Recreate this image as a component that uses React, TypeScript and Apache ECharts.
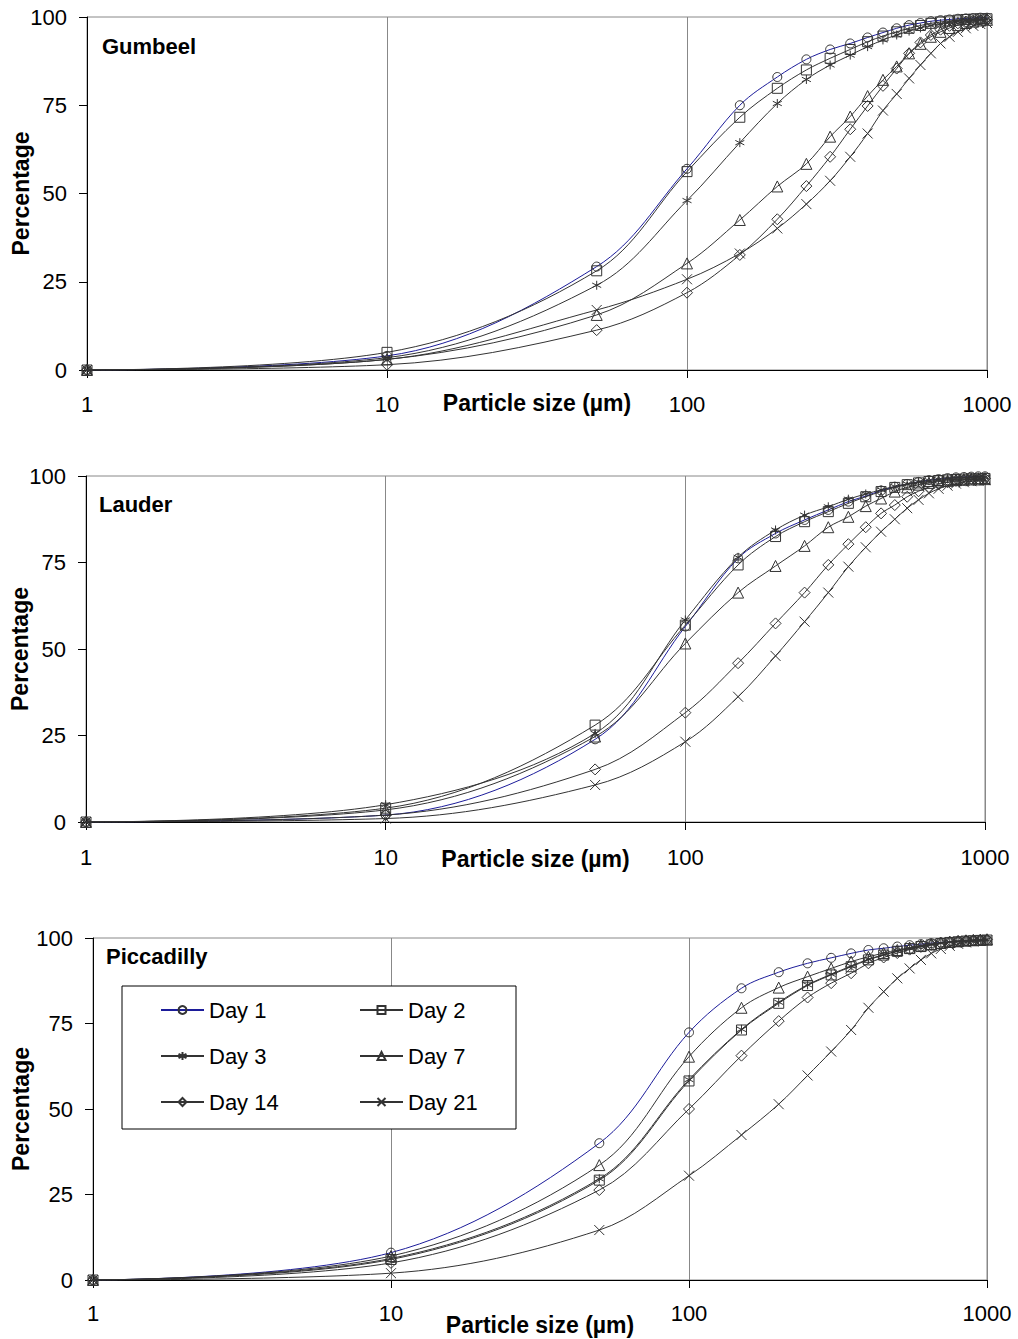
import React, { useEffect, useRef } from "react";
import * as echarts from "echarts";

const FONT = "'Liberation Sans', Arial, sans-serif";

// Particle size (µm) sample points
const sizes = [1, 10, 50, 100, 150, 200, 250, 300, 350, 400, 450, 500, 550, 600, 650, 700, 750, 800, 850, 900, 950, 1000];

const days = ["Day 1", "Day 2", "Day 3", "Day 7", "Day 14", "Day 21"];
const panelNames = ["Gumbeel", "Lauder", "Piccadilly"];
const xTickLabels = ["1", "10", "100", "1000"];

// Gumbeel
const gumDay1 = [0, 4, 29.3, 57, 75, 83, 88, 90.8, 92.5, 94.2, 95.6, 96.8, 97.7, 98.3, 98.8, 99.1, 99.3, 99.5, 99.6, 99.7, 99.8, 99.8];
const gumDay2 = [0, 5, 28.1, 56.2, 71.6, 79.8, 85, 88.3, 90.8, 93, 94.6, 95.8, 96.8, 97.6, 98.2, 98.6, 98.9, 99.1, 99.3, 99.4, 99.5, 99.5];
const gumDay3 = [0, 3.5, 24, 48, 64.4, 75.5, 82.3, 86.4, 89.2, 91.6, 93.5, 94.9, 96, 96.9, 97.6, 98.1, 98.5, 98.8, 99, 99.2, 99.3, 99.4];
const gumDay7 = [0, 3, 15.6, 30.2, 42.5, 52, 58.4, 66.1, 71.8, 77.6, 82.2, 86, 89.7, 92.4, 94.4, 95.8, 96.9, 97.7, 98.3, 98.7, 99, 99.2];
const gumDay14 = [0, 1.5, 11.3, 21.9, 32.6, 42.7, 52.1, 60.4, 68.2, 74.8, 80.5, 85.4, 89.7, 92.8, 94.9, 96.4, 97.5, 98.2, 98.7, 99, 99.2, 99.3];
const gumDay21 = [0, 3, 17, 25.7, 33, 40.1, 47, 53.6, 60.4, 67, 73.5, 78.2, 82.6, 86.4, 89.7, 92.5, 94.4, 95.8, 96.8, 97.5, 98, 98.3];

// Lauder
const lauDay1 = [0, 2, 23.9, 56.5, 76.2, 83.4, 87.3, 90.2, 92.6, 94.2, 95.8, 96.9, 97.7, 98.3, 98.8, 99.1, 99.4, 99.6, 99.7, 99.8, 99.9, 99.9];
const lauDay2 = [0, 4, 28, 56.9, 74.3, 82.5, 86.8, 89.7, 92.1, 94, 95.5, 96.7, 97.5, 98, 98.4, 98.7, 98.9, 99, 99.1, 99.2, 99.2, 99.3];
const lauDay3 = [0, 5, 25.6, 58.4, 76.5, 84.4, 88.7, 91.1, 93.3, 94.8, 96, 97, 97.7, 98.3, 98.7, 99, 99.2, 99.4, 99.5, 99.6, 99.7, 99.7];
const lauDay7 = [0, 3.5, 24.7, 51.6, 66.3, 74, 79.8, 85.2, 88.2, 91.3, 93.5, 95.5, 96.7, 97.5, 98, 98.4, 98.6, 98.8, 98.9, 99, 99, 99.1];
const lauDay14 = [0, 2, 15.2, 31.6, 45.9, 57.4, 66.3, 74.3, 80.3, 85.2, 89.2, 91.6, 94, 95.6, 96.8, 97.6, 98.2, 98.6, 98.9, 99.1, 99.2, 99.3];
const lauDay21 = [0, 1, 10.7, 23.2, 36.2, 48, 57.9, 66.3, 73.8, 79.4, 83.9, 87.5, 90.7, 93.1, 95, 96.3, 97.2, 97.8, 98.2, 98.5, 98.7, 98.8];

// Piccadilly
const picDay1 = [0, 8, 40, 72.4, 85.3, 90, 92.6, 94.2, 95.5, 96.5, 97, 97.5, 97.9, 98.2, 98.5, 98.7, 98.9, 99, 99.1, 99.2, 99.3, 99.3];
const picDay2 = [0, 6, 29.2, 58.2, 73.1, 80.9, 86.1, 89.2, 91.6, 93.6, 95, 96.1, 96.9, 97.5, 98, 98.4, 98.7, 98.9, 99.1, 99.2, 99.3, 99.4];
const picDay3 = [0, 6.3, 29.6, 58.6, 73.3, 81.2, 86.3, 89.4, 91.8, 93.8, 95.1, 96.2, 97, 97.6, 98.1, 98.5, 98.8, 99, 99.2, 99.3, 99.4, 99.5];
const picDay7 = [0, 7, 33.6, 65.3, 79.6, 85.5, 88.7, 91.1, 93.1, 94.5, 95.6, 96.5, 97.2, 97.8, 98.2, 98.6, 98.9, 99.1, 99.3, 99.4, 99.5, 99.6];
const picDay14 = [0, 5, 26.3, 50, 65.6, 75.7, 82.6, 86.8, 89.7, 92.6, 94.3, 95.6, 96.6, 97.4, 98, 98.5, 98.8, 99.1, 99.3, 99.4, 99.5, 99.6];
const picDay21 = [0, 2, 14.6, 30.5, 42.4, 51.4, 59.8, 66.8, 73.1, 79.6, 84.3, 88.2, 91.1, 93.6, 95.5, 96.8, 97.7, 98.3, 98.7, 99, 99.2, 99.3];

const panelData = [
  [gumDay1, gumDay2, gumDay3, gumDay7, gumDay14, gumDay21],
  [lauDay1, lauDay2, lauDay3, lauDay7, lauDay14, lauDay21],
  [picDay1, picDay2, picDay3, picDay7, picDay14, picDay21],
];

const symbols = [
  "circle",
  "rect",
  "path://M5,0L5,10M0.7,2.5L9.3,7.5M0.7,7.5L9.3,2.5",
  "triangle",
  "diamond",
  "path://M0,0L10,10M10,0L0,10",
];
const symbolSizes = [9, 10, 9, 11, 11, 10];
const lineColors = ["#1c1c9a", "#333", "#333", "#333", "#333", "#333"];

const grids = [
  { left: 87, top: 17, width: 900, height: 353 },
  { left: 86, top: 476, width: 899, height: 346 },
  { left: 93, top: 938, width: 894, height: 342 },
];
const titlePos = [
  [102, 46],
  [99, 504],
  [106, 956],
];
const xLabelMargins = [23, 24, 22];
const xNameGaps = [21, 25, 33];
const yNameGaps = [55, 55, 61];

export default function App() {
  const ref = useRef<HTMLDivElement>(null);
  useEffect(() => {
    if (!ref.current) return;
    const chart = echarts.init(ref.current, undefined, { renderer: "svg" });

    const xAxis = grids.map((_, i) => ({
      type: "log",
      logBase: 10,
      min: 1,
      max: 1000,
      gridIndex: i,
      axisLine: { show: true, onZero: false, lineStyle: { color: "#000", width: 1 } },
      axisTick: { show: true, length: 8, lineStyle: { color: "#000" } },
      axisLabel: {
        fontSize: 22,
        color: "#000",
        fontFamily: FONT,
        margin: xLabelMargins[i],
        formatter: (v: number) => {
          const idx = Math.round(Math.log10(v));
          return xTickLabels[idx] ?? String(Math.round(v));
        },
      },
      splitLine: { show: true, lineStyle: { color: "#888", width: 1 } },
      minorTick: { show: false },
      name: "Particle size (µm)",
      nameLocation: "middle",
      nameGap: xNameGaps[i],
      nameMoveOverlap: false,
      nameTextStyle: { fontSize: 23, fontWeight: "bold", color: "#000", fontFamily: FONT },
    }));

    const yAxis = grids.map((_, i) => ({
      type: "value",
      min: 0,
      max: 100,
      interval: 25,
      gridIndex: i,
      axisLine: { show: true, lineStyle: { color: "#000", width: 1 } },
      axisTick: { show: true, length: 8, lineStyle: { color: "#000" } },
      axisLabel: { fontSize: 22, color: "#000", fontFamily: FONT, margin: 20 },
      splitLine: { show: false },
      name: "Percentage",
      nameLocation: "middle",
      nameGap: yNameGaps[i],
      nameMoveOverlap: false,
      nameTextStyle: { fontSize: 23, fontWeight: "bold", color: "#000", fontFamily: FONT },
    }));

    const series: any[] = [];
    panelData.forEach((panel, p) => {
      panel.forEach((vals, d) => {
        series.push({
          type: "line",
          name: days[d],
          xAxisIndex: p,
          yAxisIndex: p,
          data: sizes.map((x, k) => [x, vals[k]]),
          smooth: 0.35,
          symbol: symbols[d],
          symbolSize: symbolSizes[d],
          showSymbol: true,
          lineStyle: { color: lineColors[d], width: 1 },
          itemStyle: { color: "none", borderColor: "#333", borderWidth: 1 },
          emphasis: { disabled: true },
          z: 3,
        });
      });
    });

    const graphic: any[] = panelNames.map((name, i) => ({
      type: "text",
      x: titlePos[i][0],
      y: titlePos[i][1],
      style: {
        text: name,
        fontSize: 22,
        fontWeight: "bold",
        fill: "#000",
        fontFamily: FONT,
        textVerticalAlign: "middle",
        verticalAlign: "middle",
      },
      z: 10,
    }));
    graphic.push({
      type: "rect",
      shape: { x: 122, y: 986, width: 394, height: 143 },
      style: { fill: "#fff", stroke: "#000", lineWidth: 1 },
      z: 10,
    });

    chart.setOption({
      animation: false,
      backgroundColor: "#fff",
      grid: grids.map((g) => ({
        ...g,
        outerBoundsMode: "none",
        containLabel: false,
        show: true,
        borderColor: "#888",
        borderWidth: 1,
        backgroundColor: "transparent",
      })),
      xAxis,
      yAxis,
      series,
      graphic,
      legend: {
        data: days,
        left: 160,
        top: 999,
        width: 400,
        orient: "horizontal",
        itemWidth: 43,
        itemHeight: 10,
        itemGap: 24,
        padding: 0,
        selectedMode: false,
        z: 12,
        textStyle: { fontSize: 22, color: "#000", fontFamily: FONT, width: 126, height: 22, lineHeight: 22 },
      },
    });
    return () => chart.dispose();
  }, []);
  return (
    <div
      ref={ref}
      style={{ position: "absolute", left: 0, top: 0, width: 1018, height: 1339 }}
    />
  );
}
